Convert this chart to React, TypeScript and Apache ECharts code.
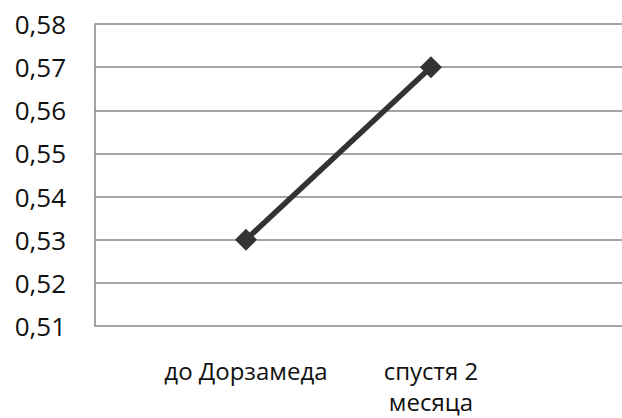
import React, { useEffect, useRef } from "react";
import * as echarts from "echarts";

const categories = ["до Дорзамеда", "спустя 2\nмесяца"];
const values = [0.53, 0.57];
const yMin = 0.51;
const yMax = 0.58;
const yStep = 0.01;

export default function App() {
  const ref = useRef<HTMLDivElement>(null);
  useEffect(() => {
    if (!ref.current) return;
    const chart = echarts.init(ref.current, null, { renderer: "svg" });
    const font = "'Open Sans', 'Noto Sans', sans-serif";
    chart.setOption({
      animation: false,
      backgroundColor: "#ffffff",
      grid: { left: 95, right: 0, top: 24, bottom: 92, containLabel: false },
      xAxis: {
        type: "value",
        min: -0.816,
        max: 2.033,
        axisLine: { show: false },
        axisTick: { show: false },
        splitLine: { show: false },
        axisLabel: {
          customValues: categories.map((_, i) => i),
          formatter: (v: number) => categories[Math.round(v)] ?? "",
          fontFamily: font,
          fontSize: 24,
          color: "#111",
          lineHeight: 31,
          margin: 29,
        },
      },
      yAxis: {
        type: "value",
        min: yMin,
        max: yMax,
        interval: yStep,
        axisLine: { show: true, onZero: false, lineStyle: { color: "#868686", width: 1.5 } },
        axisTick: { show: false },
        splitLine: { show: true, lineStyle: { color: "#868686", width: 1.5 } },
        axisLabel: {
          formatter: (v: number) => v.toFixed(2).replace(".", ","),
          fontFamily: font,
          fontSize: 26,
          color: "#111",
          margin: 29,
        },
      },
      series: [
        {
          type: "line",
          data: values.map((v, i) => [i, v]),
          symbol: "diamond",
          symbolSize: 22,
          lineStyle: { color: "#333333", width: 5.5 },
          itemStyle: { color: "#333333" },
        },
      ],
    });
    return () => chart.dispose();
  }, []);
  return (
    <div
      ref={ref}
      style={{ position: "absolute", left: 0, top: 0, width: 622, height: 418 }}
    />
  );
}
